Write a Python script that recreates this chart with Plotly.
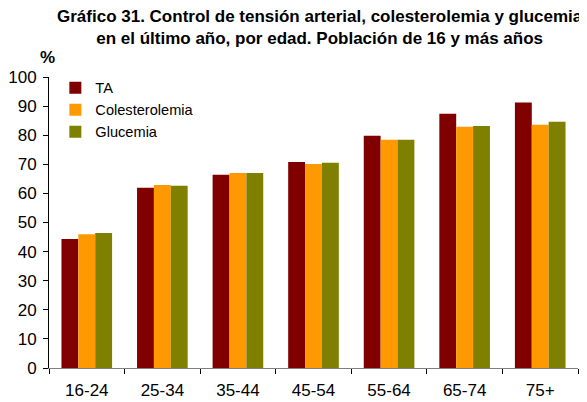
import plotly.graph_objects as go

categories = ["16-24", "25-34", "35-44", "45-54", "55-64", "65-74", "75+"]
ta = [44.3, 61.9, 66.4, 70.8, 79.8, 87.4, 91.2]
colesterolemia = [46.0, 62.9, 67.0, 70.1, 78.4, 82.9, 83.6]
glucemia = [46.4, 62.6, 67.0, 70.5, 78.4, 83.2, 84.6]

title_text = ("<b>Gráfico 31. Control de tensión arterial, colesterolemia y glucemia<br>"
              "en el último año, por edad. Población de 16 y más años</b>")

font = "Liberation Sans, Arial, sans-serif"

fig = go.Figure()
fig.add_bar(x=categories, y=ta, name="TA", marker_color="#800000", marker_line_width=0)
fig.add_bar(x=categories, y=colesterolemia, name="Colesterolemia", marker_color="#FF9900", marker_line_width=0)
fig.add_bar(x=categories, y=glucemia, name="Glucemia", marker_color="#808000", marker_line_width=0)

fig.update_layout(
    width=587, height=402,
    margin=dict(l=41, r=17, t=69, b=42, autoexpand=False),
    paper_bgcolor="white", plot_bgcolor="white",
    barmode="group", bargap=0.33, bargroupgap=0,
    font=dict(family=font, size=17, color="black"),
    legend=dict(
        x=0.012, xanchor="left", y=1.018, yanchor="top",
        bgcolor="rgba(0,0,0,0)", font=dict(size=14.6, family=font),
        itemwidth=30, tracegroupgap=0,
    ),
    annotations=[
        dict(text=title_text, xref="paper", yref="paper", x=(312 - 41) / 529, y=1.17,
             xanchor="center", yanchor="middle", showarrow=False, align="center",
             font=dict(size=17, family=font, color="black")),
        dict(text="<b>%</b>", xref="paper", yref="paper", x=-0.002, y=1.028,
             xanchor="center", yanchor="bottom", showarrow=False,
             font=dict(size=17, family=font)),
    ],
)
fig.update_xaxes(
    type="category", tickson="boundaries", ticks="outside", ticklen=5,
    tickcolor="black", showline=True, linecolor="#808080", linewidth=1,
    showgrid=False, ticklabelstandoff=7, automargin=False,
)
fig.update_yaxes(
    range=[0, 100], dtick=10, ticks="outside", ticklen=5, tickcolor="black",
    showline=True, linecolor="black", linewidth=1, showgrid=False, zeroline=False,
    ticklabelstandoff=3, automargin=False,
)
fig.write_html("out.html")
